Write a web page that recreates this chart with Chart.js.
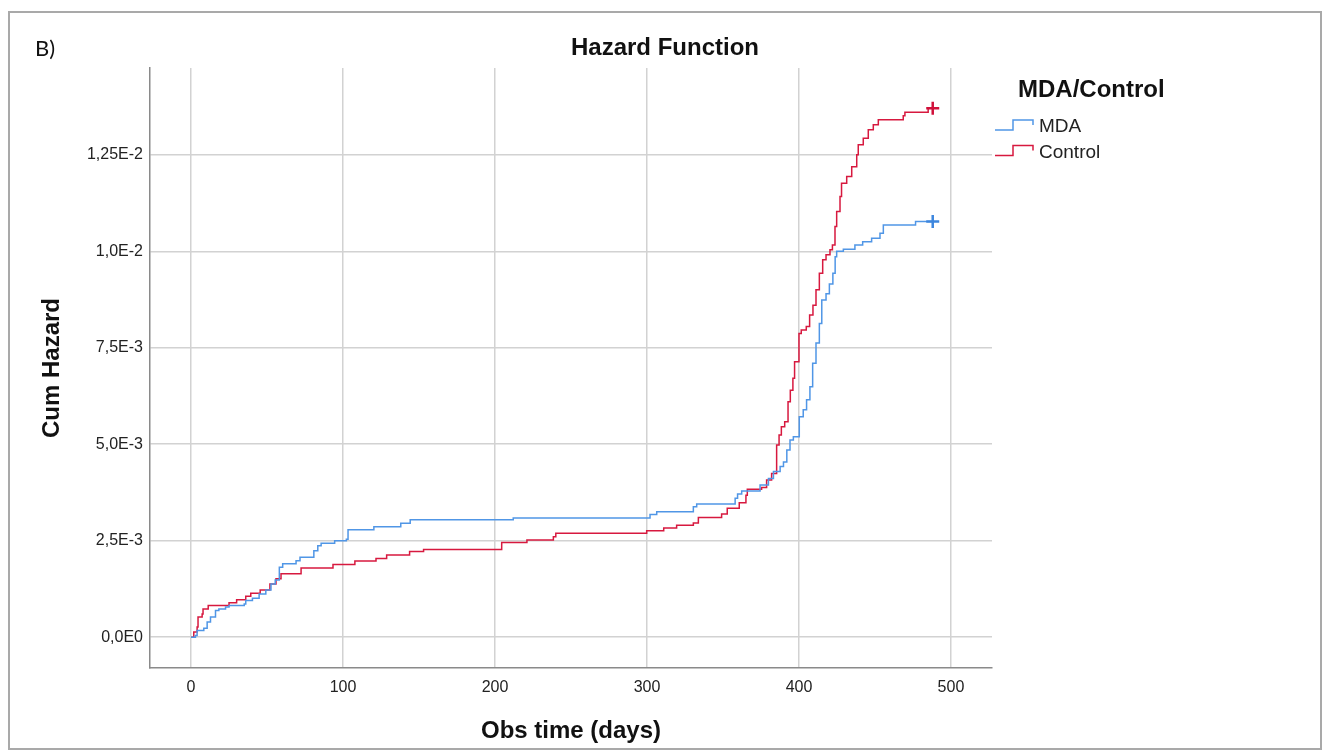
<!DOCTYPE html>
<html>
<head>
<meta charset="utf-8">
<script src="https://cdn.jsdelivr.net/npm/chart.js@4.4.1/dist/chart.umd.min.js"></script>
<style>
  body { margin: 0; background: #fff; width: 1331px; height: 756px; overflow: hidden; }
  .frame { position: absolute; left: 8px; top: 11px; width: 1314px; height: 739px; box-sizing: border-box; border: 2px solid #a9a9a9; }
  .chart-box { position: absolute; left: 0; top: 0; width: 1310px; height: 735px; }
  .panel { position: absolute; left: 35px; top: 34px; font: 22px Lato, "Open Sans", sans-serif; color: #111; }
</style>
</head>
<body>
<div class="frame">
  <div class="chart-box"><canvas id="hazard"></canvas></div>
</div>
<div class="panel">B)</div>
<script>
const mdaDays = [0, 2.9, 4, 8.4, 10.6, 12.8, 16.1, 18.3, 22.7, 25, 35, 36, 40.4, 44.8, 49.2, 52.6, 55.4, 58.1, 60.3, 69.1, 71.7, 80.8, 83.4, 85.6, 94.5, 102.2, 103.3, 120.3, 138, 144.2, 212, 302, 306.4, 330.5, 332.7, 358, 359.6, 362.3, 374.4, 379.9, 383.2, 387.6, 389.8, 392, 394.1, 396.3, 400.2, 402.8, 405, 407.2, 409, 411.2, 413.4, 415, 417.8, 420, 422.3, 423.8, 424.8, 429.2, 436.8, 441.9, 447.8, 453.3, 455.5, 476.7, 488]
const mdaHazard = [0, 0.04e-3, 0.17e-3, 0.23e-3, 0.39e-3, 0.52e-3, 0.69e-3, 0.73e-3, 0.78e-3, 0.82e-3, 0.86e-3, 0.95e-3, 1.01e-3, 1.12e-3, 1.22e-3, 1.38e-3, 1.48e-3, 1.81e-3, 1.90e-3, 1.98e-3, 2.07e-3, 2.24e-3, 2.37e-3, 2.43e-3, 2.50e-3, 2.54e-3, 2.78e-3, 2.86e-3, 2.95e-3, 3.04e-3, 3.09e-3, 3.18e-3, 3.25e-3, 3.38e-3, 3.45e-3, 3.60e-3, 3.71e-3, 3.79e-3, 3.94e-3, 4.11e-3, 4.29e-3, 4.42e-3, 4.54e-3, 4.85e-3, 5.11e-3, 5.19e-3, 5.71e-3, 5.89e-3, 6.15e-3, 6.49e-3, 7.10e-3, 7.62e-3, 8.13e-3, 8.74e-3, 8.90e-3, 9.15e-3, 9.43e-3, 9.86e-3, 10.0e-3, 10.05e-3, 10.16e-3, 10.25e-3, 10.34e-3, 10.47e-3, 10.68e-3, 10.77e-3, 10.77e-3]

const ctrlDays = [0, 1.8, 4, 4.6, 7.3, 7.9, 11.3, 25, 30, 36, 39.3, 45.5, 51.9, 55.9, 59.2, 72.4, 93.4, 107.8, 121.7, 128.7, 143.8, 153, 204.4, 221, 238.4, 240, 299.8, 311, 319.5, 330.5, 333.8, 349.1, 352.8, 360.7, 365.1, 366, 375.4, 378.7, 382, 385.3, 386.9, 388.4, 390.6, 392.8, 394.3, 396, 397.1, 400, 401.5, 404.8, 407, 409.2, 411.2, 413.4, 415.6, 417.8, 420.4, 422, 423.7, 424.8, 427, 428, 431.4, 434.7, 438, 439, 442.3, 445.6, 448.9, 452.2, 468.6, 469.7, 485, 488]
const ctrlHazard = [0, 0.13e-3, 0.26e-3, 0.52e-3, 0.60e-3, 0.73e-3, 0.82e-3, 0.89e-3, 0.97e-3, 1.06e-3, 1.14e-3, 1.22e-3, 1.38e-3, 1.51e-3, 1.64e-3, 1.79e-3, 1.88e-3, 1.97e-3, 2.04e-3, 2.13e-3, 2.22e-3, 2.27e-3, 2.45e-3, 2.52e-3, 2.60e-3, 2.69e-3, 2.76e-3, 2.83e-3, 2.90e-3, 2.96e-3, 3.10e-3, 3.19e-3, 3.34e-3, 3.48e-3, 3.68e-3, 3.83e-3, 3.88e-3, 4.07e-3, 4.24e-3, 4.98e-3, 5.24e-3, 5.45e-3, 5.58e-3, 6.10e-3, 6.40e-3, 6.71e-3, 7.14e-3, 7.87e-3, 7.96e-3, 8.05e-3, 8.35e-3, 8.60e-3, 9.00e-3, 9.43e-3, 9.78e-3, 9.91e-3, 10.04e-3, 10.16e-3, 10.64e-3, 11.03e-3, 11.42e-3, 11.76e-3, 11.94e-3, 12.19e-3, 12.50e-3, 12.76e-3, 12.93e-3, 13.15e-3, 13.28e-3, 13.41e-3, 13.51e-3, 13.60e-3, 13.71e-3, 13.71e-3]

const xTicks = [0, 100, 200, 300, 400, 500]
const xTickLabels = ['0', '100', '200', '300', '400', '500']
const yTicks = [0, 0.0025, 0.005, 0.0075, 0.01, 0.0125]
const yTickLabels = ['0,0E0', '2,5E-3', '5,0E-3', '7,5E-3', '1,0E-2', '1,25E-2']
const legendTitle = 'MDA/Control'

const FONT = '"Liberation Sans", Arial, sans-serif'

const toPoints = (days, vals) => days.map((d, i) => ({ x: d, y: vals[i] }))
// the censored end of each curve gets a "+"
const lastCross = (ctx) => ctx.dataIndex === ctx.dataset.data.length - 1 ? 6.5 : 0

// legend drawn in the empty strip right of the plot, with step-shaped keys
const stepLegend = {
    id: 'stepLegend',
    afterDraw(chart) {
        const ctx = chart.ctx
        const r = chart.chartArea.right
        const t = chart.chartArea.top
        ctx.save()
        ctx.textBaseline = 'middle'
        ctx.fillStyle = '#111'
        ctx.font = 'bold 24px ' + FONT
        ctx.fillText(legendTitle, r + 26, t + 22)
        chart.data.datasets.forEach((ds, i) => {
            const y = t + 62 + i * 25.5
            ctx.strokeStyle = ds.borderColor
            ctx.lineWidth = 1.5
            ctx.beginPath()
            ctx.moveTo(r + 3, y)
            ctx.lineTo(r + 21, y)
            ctx.lineTo(r + 21, y - 10)
            ctx.lineTo(r + 41, y - 10)
            ctx.lineTo(r + 41, y - 5)
            ctx.stroke()
            ctx.fillStyle = '#222'
            ctx.font = '19px ' + FONT
            ctx.fillText(ds.label, r + 47, y - 3)
        })
        ctx.restore()
    }
}

const titleFont = { family: FONT, size: 24, weight: 'bold' }

new Chart(document.getElementById('hazard'), {
    type: 'line',
    data: {
        datasets: [{
            label: 'MDA',
            data: toPoints(mdaDays, mdaHazard),
            borderColor: '#5096e6',
            backgroundColor: '#5096e6',
            borderWidth: 1.5,
            stepped: 'before',
            pointStyle: 'cross',
            pointRadius: lastCross,
            pointBorderWidth: 2.5,
            pointBorderColor: '#3d86de'
        }, {
            label: 'Control',
            data: toPoints(ctrlDays, ctrlHazard),
            borderColor: '#d7193f',
            backgroundColor: '#d7193f',
            borderWidth: 1.5,
            stepped: 'before',
            pointStyle: 'cross',
            pointRadius: lastCross,
            pointBorderWidth: 2.5,
            pointBorderColor: '#d0103a'
        }]
    },
    options: {
        responsive: true, maintainAspectRatio: false, animation: false,
        layout: { padding: 0 },
        plugins: {
            legend: { display: false },
            tooltip: { enabled: false },
            title: {
                display: true,
                text: 'Hazard Function',
                color: '#111',
                font: titleFont,
                padding: { top: 20.6, bottom: 5.6 }
            }
        },
        scales: {
            x: {
                type: 'linear', min: -27, max: 527,
                afterBuildTicks: (s) => { s.ticks = xTicks.map(v => ({ value: v })) },
                afterFit: (s) => { s.height = 80 },
                ticks: {
                    callback: (v, i) => xTickLabels[i],
                    color: '#222', padding: 10, maxRotation: 0,
                    font: { family: FONT, size: 16 }
                },
                grid: { color: '#d2d2d2', lineWidth: 1.5, drawTicks: false },
                border: { color: '#8a8a8a', width: 1.5 },
                title: {
                    display: true, text: 'Obs time (days)', color: '#111',
                    font: titleFont,
                    padding: { top: 0, bottom: 2 }
                }
            },
            y: {
                type: 'linear', min: -0.0008, max: 0.01475,
                afterBuildTicks: (s) => { s.ticks = yTicks.map(v => ({ value: v })) },
                afterFit: (s) => { s.width = 140 },
                ticks: {
                    callback: (v, i) => yTickLabels[i],
                    color: '#222', padding: 7,
                    font: { family: FONT, size: 16 }
                },
                grid: { color: '#d2d2d2', lineWidth: 1.5, drawTicks: false },
                border: { color: '#8a8a8a', width: 1.5 },
                title: {
                    display: true, text: 'Cum Hazard', color: '#111',
                    font: titleFont,
                    padding: { top: 27.6, bottom: 0 }
                }
            },
            // empty strip on the right that holds the legend
            legendSpace: {
                type: 'linear', position: 'right',
                afterFit: (s) => { s.width = 328 },
                ticks: { display: false },
                grid: { display: false },
                border: { display: false }
            }
        }
    },
    plugins: [stepLegend]
})
</script>
</body>
</html>
